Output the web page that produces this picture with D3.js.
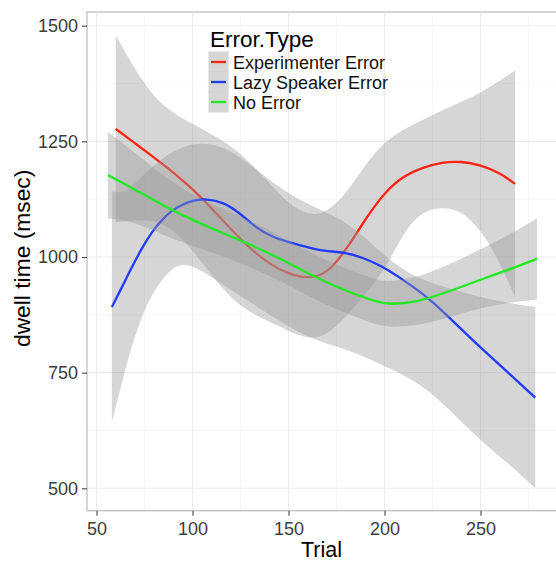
<!DOCTYPE html>
<html>
<head>
<meta charset="utf-8">
<script src="https://cdn.jsdelivr.net/npm/d3@7"></script>
<style>
  html, body { margin: 0; padding: 0; background: #ffffff; }
  svg { display: block; font-family: "Liberation Sans", Arial, Helvetica, sans-serif; }
</style>
</head>
<body>
<svg id="chart" width="556" height="562"></svg>
<script>
// ---- data ----
const groups = ["Experimenter Error", "Lazy Speaker Error", "No Error"];
const groupColors = ["#ff2414", "#1f3bff", "#20ea20"];

const xTicks = [50, 100, 150, 200, 250];
const xMinor = [75, 125, 175, 225, 275];
const yTicks = [500, 750, 1000, 1250, 1500];
const yMinor = [625, 875, 1125, 1375];

// Experimenter Error
const expTrial = [60, 70, 80, 90, 100, 110, 120, 130, 140, 150, 160, 170, 180, 190, 200, 210, 220, 230, 240, 250, 260, 268];
const expFit   = [1277, 1246, 1215, 1183, 1147, 1105, 1060, 1018, 985, 963, 953, 963, 1015, 1082, 1140, 1176, 1194, 1205, 1207, 1199, 1182, 1158];
const expLow   = [1075, 1080, 1080, 1060, 1015, 960, 910, 880, 860, 840, 822, 830, 870, 920, 970, 1055, 1100, 1108, 1100, 1060, 990, 913];
const expHigh  = [1479, 1405, 1345, 1310, 1288, 1265, 1240, 1205, 1160, 1115, 1090, 1095, 1137, 1200, 1250, 1276, 1297, 1317, 1335, 1355, 1380, 1403];

// Lazy Speaker Error
const lazyTrial = [58, 64, 68, 74, 79, 84, 89, 95, 100, 107, 116, 125, 133, 142, 151, 160, 168, 180, 189, 198, 210, 223, 237, 251, 265, 278.5];
const lazyFit   = [892, 941, 975, 1022, 1055, 1080, 1100, 1114, 1122, 1126, 1119, 1094, 1063, 1042, 1031, 1021, 1013, 1010, 998, 982, 950, 912, 856, 800, 748, 696];
const lazyLow   = [643, 740, 805, 877, 920, 950, 975, 985, 980, 965, 940, 915, 895, 870, 848, 828, 815, 800, 785, 768, 745, 713, 656, 600, 552, 500];
const lazyHigh  = [1141, 1140, 1150, 1175, 1195, 1212, 1226, 1238, 1244, 1246, 1238, 1215, 1190, 1160, 1135, 1115, 1100, 1075, 1045, 1010, 970, 945, 928, 912, 900, 892];

// No Error
const noTrial = [56, 70, 87, 101, 111, 128, 146, 163, 180, 198, 203, 216, 230, 248, 265, 279.4];
const noFit   = [1177, 1146, 1106, 1078, 1060, 1031, 996, 958, 926, 900, 898, 902, 920, 948, 973, 996];
const noLow   = [1084, 1076, 1043, 1023, 1009, 982, 949, 909, 878, 850, 849, 851, 865, 888, 902, 908];
const noHigh  = [1270, 1226, 1167, 1133, 1113, 1082, 1045, 1005, 974, 948, 947, 955, 977, 1012, 1048, 1084];

const xTitle = "Trial";
const yTitle = "dwell time (msec)";
const legendTitle = "Error.Type";

// ---- build ----
const series = [
  {trial: expTrial, fit: expFit, low: expLow, high: expHigh},
  {trial: lazyTrial, fit: lazyFit, low: lazyLow, high: lazyHigh},
  {trial: noTrial, fit: noFit, low: noLow, high: noHigh}
].map((s, i) => ({
  name: groups[i], color: groupColors[i],
  pts: s.trial.map((t, j) => ({t, fit: s.fit[j], low: s.low[j], high: s.high[j]}))
}));

const svg = d3.select("#chart");
const P = {left: 87, right: 558, top: 12, bottom: 510.7};
const FONT = '"Liberation Sans", Arial, sans-serif';

const x = d3.scaleLinear().domain([45.05, 290.35]).range([P.left, P.right]);
const y = d3.scaleLinear().domain([451.6, 1529.6]).range([P.bottom, P.top]);

svg.append("rect").attr("width", 556).attr("height", 562).attr("fill", "#fff");

const clip = svg.append("defs").append("clipPath").attr("id", "pclip");
clip.append("rect").attr("x", P.left).attr("y", P.top)
  .attr("width", P.right - P.left).attr("height", P.bottom - P.top);

const grid = svg.append("g");
grid.selectAll(".xm").data(xMinor).join("line")
  .attr("x1", d => x(d)).attr("x2", d => x(d)).attr("y1", P.top).attr("y2", P.bottom)
  .attr("stroke", "#f4f4f4").attr("stroke-width", 0.8);
grid.selectAll(".ym").data(yMinor).join("line")
  .attr("y1", d => y(d)).attr("y2", d => y(d)).attr("x1", P.left).attr("x2", P.right)
  .attr("stroke", "#f4f4f4").attr("stroke-width", 0.8);
grid.selectAll(".xM").data(xTicks).join("line")
  .attr("x1", d => x(d)).attr("x2", d => x(d)).attr("y1", P.top).attr("y2", P.bottom)
  .attr("stroke", "#ebebeb").attr("stroke-width", 1.1);
grid.selectAll(".yM").data(yTicks).join("line")
  .attr("y1", d => y(d)).attr("y2", d => y(d)).attr("x1", P.left).attr("x2", P.right)
  .attr("stroke", "#ebebeb").attr("stroke-width", 1.1);

const plot = svg.append("g").attr("clip-path", "url(#pclip)");
const area = d3.area().x(d => x(d.t)).y0(d => y(d.low)).y1(d => y(d.high)).curve(d3.curveBasis);
const line = d3.line().x(d => x(d.t)).y(d => y(d.fit)).curve(d3.curveBasis);

series.forEach(s => {
  plot.append("path").attr("d", area(s.pts)).attr("fill", "#999999").attr("fill-opacity", 0.4);
  plot.append("path").attr("d", line(s.pts)).attr("fill", "none")
    .attr("stroke", s.color).attr("stroke-width", 2.3);
});

// panel border
svg.append("rect").attr("x", P.left).attr("y", P.top)
  .attr("width", P.right - P.left).attr("height", P.bottom - P.top)
  .attr("fill", "none").attr("stroke", "#c4c4c4").attr("stroke-width", 1.4);

// axes
const yAxis = svg.append("g").attr("transform", `translate(${P.left},0)`)
  .call(d3.axisLeft(y).tickValues(yTicks).tickSize(5).tickPadding(4).tickFormat(d3.format("d")));
yAxis.select(".domain").remove();
yAxis.selectAll(".tick line").attr("stroke", "#444").attr("stroke-width", 1.1);
yAxis.selectAll(".tick text").attr("fill", "#3d3d3d").style("font-size", "18px").style("font-family", FONT);

const xAxis = svg.append("g").attr("transform", `translate(0,${P.bottom})`)
  .call(d3.axisBottom(x).tickValues(xTicks).tickSize(5).tickPadding(7).tickFormat(d3.format("d")));
xAxis.select(".domain").remove();
xAxis.selectAll(".tick line").attr("stroke", "#444").attr("stroke-width", 1.1);
xAxis.selectAll(".tick text").attr("fill", "#3d3d3d").style("font-size", "18px").style("font-family", FONT);

svg.append("text").attr("x", (P.left + 556) / 2).attr("y", 557)
  .attr("text-anchor", "middle").attr("font-size", 21.5).attr("fill", "#000").text(xTitle);
svg.append("text").attr("transform", `translate(30,${(P.top + P.bottom) / 2 - 3}) rotate(-90)`)
  .attr("text-anchor", "middle").attr("font-size", 22.8).attr("fill", "#000").text(yTitle);

// legend
const lg = svg.append("g").attr("transform", "translate(209,52)");
lg.append("text").attr("x", 1).attr("y", -5).attr("font-size", 22.5).attr("fill", "#000").text(legendTitle);
const rows = lg.selectAll(".row").data(series).join("g").attr("transform", (d, i) => `translate(0,${i * 20})`);
rows.append("rect").attr("width", 19).attr("height", 20).attr("fill", "#fff")
  .attr("stroke", "#cfcfcf").attr("stroke-width", 1);
rows.append("rect").attr("x", 0.5).attr("y", 0.5).attr("width", 18).attr("height", 19)
  .attr("fill", "#999999").attr("fill-opacity", 0.4);
rows.append("line").attr("x1", 2).attr("x2", 17).attr("y1", 10).attr("y2", 10)
  .attr("stroke", d => d.color).attr("stroke-width", 2.3);
rows.append("text").attr("x", 24).attr("y", 16.5).attr("font-size", 18).attr("fill", "#111").text(d => d.name);
</script>
</body>
</html>
